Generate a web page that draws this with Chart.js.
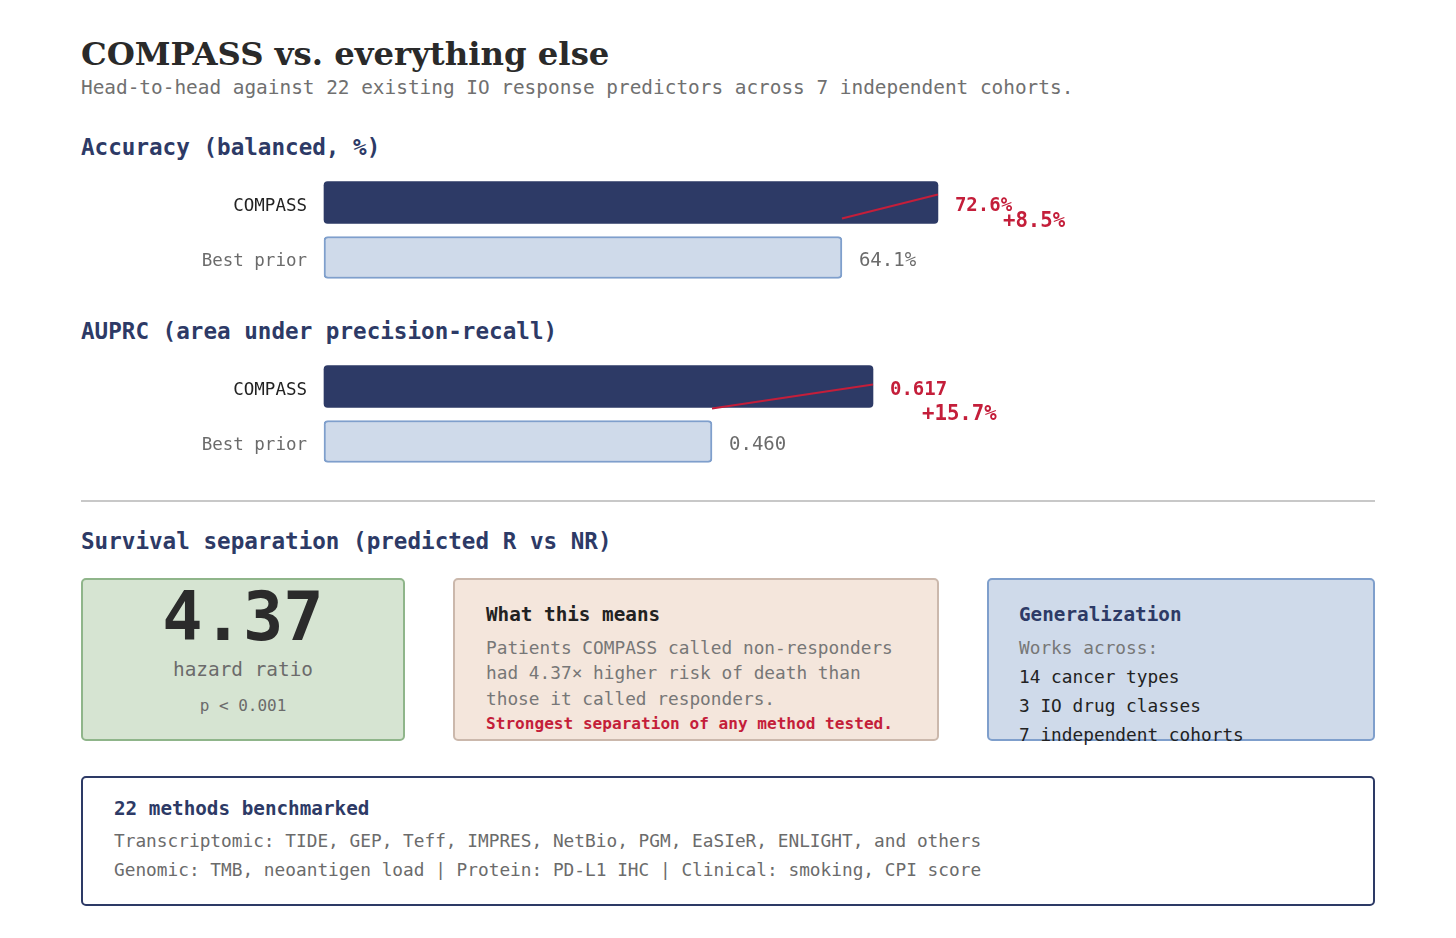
<!DOCTYPE html>
<html>
<head>
    <title>COMPASS vs. everything else</title>
    <script src="https://cdn.jsdelivr.net/npm/chart.js"></script>
    <style>
        body { margin: 0; background: #fff; }
        #page { position: relative; width: 1456px; height: 938px; overflow: hidden; }
        .t { position: absolute; white-space: nowrap; line-height: 1; font-family: "DejaVu Sans Mono", monospace; }
        .box { position: absolute; box-sizing: border-box; border: 2px solid; border-radius: 5px; }
        canvas { position: absolute; }
    </style>
</head>
<body>
<div id="page">
    <div class="t" style="left:81px; top:37.5px; font-family:'DejaVu Serif', serif; font-weight:bold; font-size:32.3px; color:#2a2a2a;">COMPASS vs. everything else</div>
    <div class="t" style="left:81px; top:78px; font-size:19.4px; color:#707070;">Head-to-head against 22 existing IO response predictors across 7 independent cohorts.</div>

    <!-- Accuracy -->
    <div class="t" style="left:81px; top:136px; font-size:22.6px; font-weight:bold; color:#2d3a66;">Accuracy (balanced, %)</div>
    <canvas id="accuracyChart" width="1294" height="110" style="left:81px; top:175px;"></canvas>

    <!-- AUPRC -->
    <div class="t" style="left:81px; top:320px; font-size:22.6px; font-weight:bold; color:#2d3a66;">AUPRC (area under precision-recall)</div>
    <canvas id="auprcChart" width="1294" height="110" style="left:81px; top:359px;"></canvas>

    <div style="position:absolute; left:81px; top:500px; width:1294px; height:1.5px; background:#c8c8c8;"></div>

    <!-- Survival -->
    <div class="t" style="left:81px; top:530px; font-size:22.6px; font-weight:bold; color:#2d3a66;">Survival separation (predicted R vs NR)</div>

    <div class="box" style="left:81px; top:578px; width:324px; height:163px; background:#d6e4d2; border-color:#8fb58a;"></div>
    <div class="t" style="left:81px; width:324px; text-align:center; top:584px; font-size:67px; font-weight:bold; color:#2b2b2b;">4.37</div>
    <div class="t" style="left:81px; width:324px; text-align:center; top:660px; font-size:19.4px; color:#6b6b6b;">hazard ratio</div>
    <div class="t" style="left:81px; width:324px; text-align:center; top:698px; font-size:16px; color:#6b6b6b;">p &lt; 0.001</div>

    <div class="box" style="left:453px; top:578px; width:486px; height:163px; background:#f4e6dc; border-color:#cbb8ac;"></div>
    <div class="t" style="left:486px; top:604.5px; font-size:19.3px; font-weight:bold; color:#222;">What this means</div>
    <div class="t" style="left:486px; top:638.5px; font-size:17.8px; color:#777;">Patients COMPASS called non-responders</div>
    <div class="t" style="left:486px; top:664px; font-size:17.8px; color:#777;">had 4.37× higher risk of death than</div>
    <div class="t" style="left:486px; top:689.5px; font-size:17.8px; color:#777;">those it called responders.</div>
    <div class="t" style="left:486px; top:716px; font-size:16.1px; font-weight:bold; color:#c41e3a;">Strongest separation of any method tested.</div>

    <div class="box" style="left:987px; top:578px; width:388px; height:163px; background:#cfdaea; border-color:#7f9fcc;"></div>
    <div class="t" style="left:1019px; top:605px; font-size:19.3px; font-weight:bold; color:#2d3a66;">Generalization</div>
    <div class="t" style="left:1019px; top:638.5px; font-size:17.8px; color:#777;">Works across:</div>
    <div class="t" style="left:1019px; top:667.5px; font-size:17.8px; color:#222;">14 cancer types</div>
    <div class="t" style="left:1019px; top:696.5px; font-size:17.8px; color:#222;">3 IO drug classes</div>
    <div class="t" style="left:1019px; top:725.5px; font-size:17.8px; color:#222;">7 independent cohorts</div>

    <!-- Methods -->
    <div class="box" style="left:81px; top:776px; width:1294px; height:130px; background:#fff; border-color:#2d3a66;"></div>
    <div class="t" style="left:114px; top:799px; font-size:19.3px; font-weight:bold; color:#2d3a66;">22 methods benchmarked</div>
    <div class="t" style="left:114px; top:832px; font-size:17.8px; color:#6b6b6b;">Transcriptomic: TIDE, GEP, Teff, IMPRES, NetBio, PGM, EaSIeR, ENLIGHT, and others</div>
    <div class="t" style="left:114px; top:861px; font-size:17.8px; color:#6b6b6b;">Genomic: TMB, neoantigen load | Protein: PD-L1 IHC | Clinical: smoking, CPI score</div>
</div>

<script>
    // Data
    const categories = ['COMPASS', 'Best prior'];
    const accuracyValues = [72.6, 64.1];
    const auprcValues = [0.617, 0.460];
    const accuracyGain = '+8.5%';
    const auprcGain = '+15.7%';

    const NAVY = '#2d3a66';
    const RED = '#c41e3a';
    const MONO = '"DejaVu Sans Mono", monospace';

    // Value labels, gain label and red connector line
    const barNotes = {
        id: 'barNotes',
        afterDatasetsDraw(chart, args, o) {
            const ctx = chart.ctx;
            const values = chart.data.datasets[0].data;
            const bars = chart.getDatasetMeta(0).data;
            const top = bars[0], prior = bars[1];
            ctx.save();
            ctx.strokeStyle = RED;
            ctx.lineWidth = 2;
            ctx.beginPath();
            ctx.moveTo(top.x, top.y + o.lineFrom);
            ctx.lineTo(prior.x, top.y + o.lineTo);
            ctx.stroke();

            ctx.textBaseline = 'alphabetic';
            ctx.textAlign = 'left';
            bars.forEach((b, i) => {
                ctx.font = (i === 0 ? 'bold ' : '') + '19px ' + MONO;
                ctx.fillStyle = i === 0 ? RED : '#6b6b6b';
                ctx.fillText(o.format(values[i]), b.x + 17, b.y + 8);
            });
            ctx.font = 'bold 20.7px ' + MONO;
            ctx.fillStyle = RED;
            ctx.fillText(o.gain, top.x + o.gainDx, top.y + o.gainDy);
            ctx.restore();
        }
    };

    function makeBarChart(id, values, xMin, xMax, notes) {
        return new Chart(document.getElementById(id), {
            type: 'bar',
            data: {
                labels: categories,
                datasets: [{
                    data: values,
                    base: xMin,
                    backgroundColor: [NAVY, '#cfdaea'],
                    borderColor: [NAVY, '#7f9fcc'],
                    borderWidth: [0, 2],
                    borderSkipped: false,
                    borderRadius: 4,
                    barThickness: 42,
                    clip: false
                }]
            },
            options: {
                indexAxis: 'y',
                responsive: false,
                animation: false,
                layout: { padding: 0 },
                plugins: {
                    legend: { display: false },
                    tooltip: { enabled: false },
                    barNotes: notes
                },
                scales: {
                    x: { display: false, min: xMin, max: xMax },
                    y: {
                        grid: { display: false, drawTicks: false },
                        border: { display: false },
                        ticks: {
                            padding: 17,
                            labelOffset: 3.5,
                            color: c => c.index === 0 ? '#222' : '#6b6b6b',
                            font: { family: MONO, size: 17.5 }
                        },
                        afterFit: s => {
                            s.width = 243;
                            s.paddingTop = 0;
                            s.paddingBottom = 0;
                        }
                    }
                }
            },
            plugins: [barNotes]
        });
    }

    makeBarChart('accuracyChart', accuracyValues, 18.24, 111.3, {
        format: v => v.toFixed(1) + '%',
        gain: accuracyGain,
        lineFrom: -8, lineTo: 16, gainDx: 65, gainDy: 24
    });

    makeBarChart('auprcChart', auprcValues, 0.0816, 1.1066, {
        format: v => v.toFixed(3),
        gain: auprcGain,
        lineFrom: -2, lineTo: 22, gainDx: 49, gainDy: 33.5
    });
</script>
</body>
</html>
